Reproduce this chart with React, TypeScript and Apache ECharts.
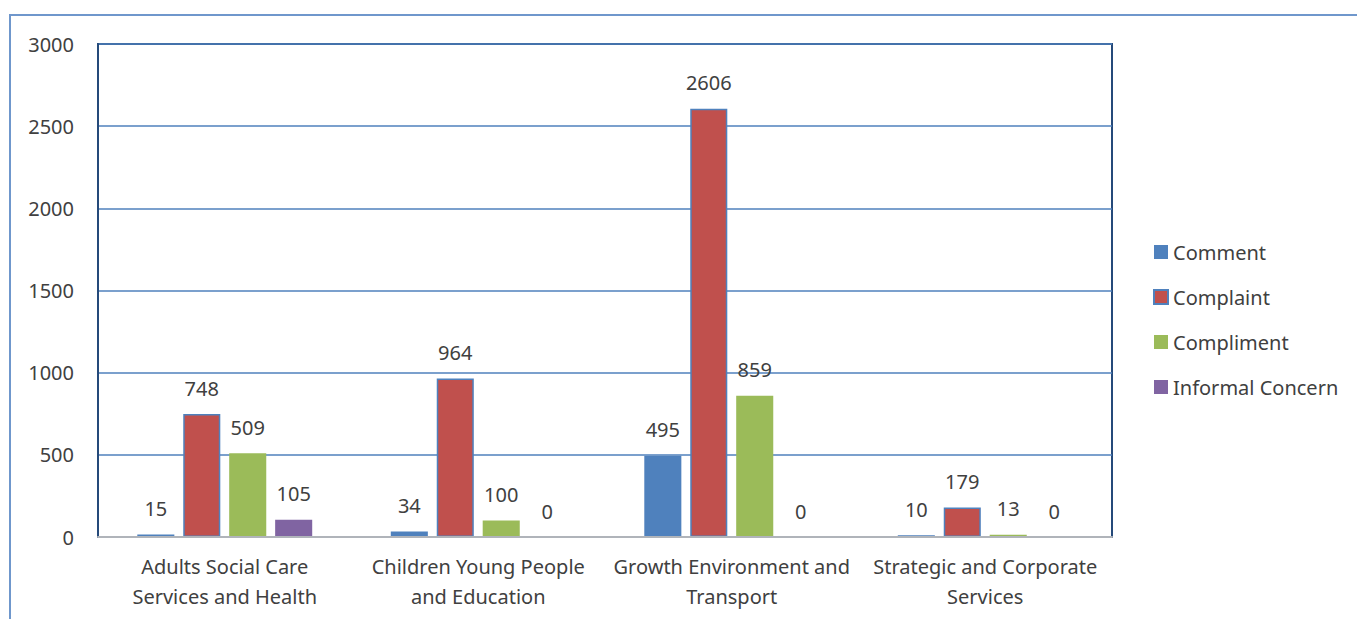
import React, { useEffect, useRef } from "react";
import * as echarts from "echarts";

const categories = [
  "Adults Social Care\nServices and Health",
  "Children Young People\nand Education",
  "Growth Environment and\nTransport",
  "Strategic and Corporate\nServices",
];
const seriesNames = ["Comment", "Complaint", "Compliment", "Informal Concern"];
const comment = [15, 34, 495, 10];
const complaint = [748, 964, 2606, 179];
const compliment = [509, 100, 859, 13];
const informalConcern = [105, 0, 0, 0];
const colors = ["#4F81BD", "#C0504D", "#9BBB59", "#8064A2"];

export default function App() {
  const ref = useRef<HTMLDivElement>(null);
  useEffect(() => {
    if (!ref.current) return;
    const chart = echarts.init(ref.current, null, { renderer: "svg" });
    const font = "'Noto Sans', sans-serif";
    const values = [comment, complaint, compliment, informalConcern];
    chart.setOption({
      animation: false,
      textStyle: { fontFamily: font },
      graphic: [
        {
          type: "rect",
          shape: { x: 10, y: 15, width: 1400, height: 700 },
          style: { fill: "none", stroke: "#6F97CC", lineWidth: 2 },
          silent: true,
        },
      ],
      grid: {
        left: 98,
        right: 1357 - 1112,
        top: 44,
        bottom: 619 - 537,
        show: true,
        borderColor: "#254A7A",
        borderWidth: 2,
        backgroundColor: "transparent",
      },
      legend: {
        orient: "vertical",
        left: 1148,
        top: 237,
        itemWidth: 14,
        itemHeight: 14,
        itemGap: 25,
        icon: "rect",
        textStyle: { fontSize: 20, color: "#404040", fontFamily: font },
        data: seriesNames,
      },
      xAxis: {
        type: "category",
        data: categories,
        axisLine: { show: true, lineStyle: { color: "#B0B4BA", width: 2 } },
        axisTick: { show: false },
        axisLabel: {
          fontSize: 20,
          color: "#404040",
          lineHeight: 30,
          margin: 14,
          interval: 0,
          fontFamily: font,
        },
        z: 5,
      },
      yAxis: {
        type: "value",
        min: 0,
        max: 3000,
        interval: 500,
        axisLine: { show: true, lineStyle: { color: "#254A7A", width: 2 } },
        axisTick: { show: false },
        axisLabel: {
          fontSize: 20,
          color: "#404040",
          margin: 24,
          fontFamily: font,
          formatter: (v: number) => String(v),
        },
        splitLine: { show: true, lineStyle: { color: "#4F81BD", width: 1.5 } },
      },
      series: seriesNames.map((name, i) => ({
        name,
        type: "bar",
        data: values[i],
        barGap: "24%",
        barCategoryGap: "31%",
        itemStyle:
          i === 1
            ? { color: colors[i], borderColor: "#4F81BD", borderWidth: 1.5 }
            : { color: colors[i] },
        label: {
          show: true,
          position: "top",
          distance: 16,
          fontSize: 20,
          color: "#404040",
          fontFamily: font,
        },
      })),
    });
    return () => chart.dispose();
  }, []);
  return (
    <div
      ref={ref}
      style={{ position: "fixed", left: 0, top: 0, width: 1357, height: 619, background: "#fff" }}
    />
  );
}
